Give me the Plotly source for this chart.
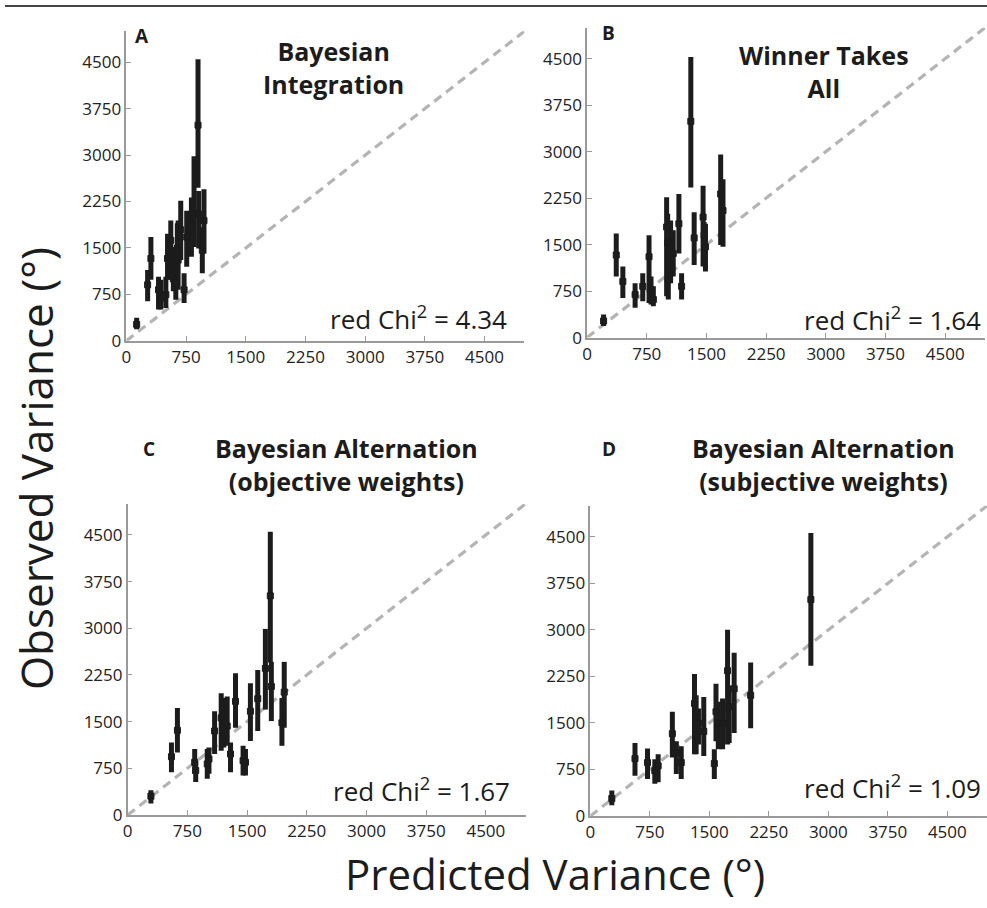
import plotly.graph_objects as go

W, H = 987, 908

# ---------------- data ----------------
# Panel A: Bayesian Integration
A_x  = [129, 267, 308, 404, 433, 496, 517, 558, 590, 600, 621, 640, 650, 683, 725, 758, 817, 850, 900, 908, 954, 975]
A_y  = [266, 904, 1330, 825, 691, 745, 1330, 1623, 1000, 1197, 931, 1500, 1304, 1793, 825, 1676, 1888, 2048, 3484, 2048, 1463, 1942]
A_lo = [186, 638, 985, 506, 506, 532, 985, 985, 800, 878, 665, 1050, 825, 1304, 612, 1197, 1357, 1516, 2474, 1490, 1091, 1410]
A_hi = [372, 1144, 1676, 1037, 985, 1037, 1729, 1942, 1250, 1516, 1037, 1900, 1942, 2261, 1091, 2102, 2314, 2980, 4549, 2421, 1835, 2447]

# Panel B: Winner Takes All
B_x  = [208, 367, 450, 604, 700, 779, 804, 833, 1000, 1013, 1021, 1050, 1083, 1154, 1188, 1304, 1346, 1458, 1471, 1488, 1679, 1708]
B_y  = [267, 1332, 905, 693, 826, 1305, 773, 613, 1784, 1528, 933, 1464, 1357, 1837, 826, 3488, 1608, 1944, 1651, 1464, 2316, 2050]
B_lo = [187, 985, 639, 479, 586, 559, 533, 506, 666, 932, 613, 878, 985, 1357, 613, 2423, 1172, 1145, 1198, 1065, 1492, 1464]
B_hi = [374, 1677, 1145, 878, 1038, 1651, 985, 826, 2263, 1996, 1198, 1890, 1731, 2316, 1038, 4526, 2023, 2450, 1864, 1837, 2955, 2556]

# Panel C: Bayesian Alternation (objective weights)
C_x  = [292, 550, 625, 842, 855, 1000, 1021, 1092, 1175, 1208, 1250, 1292, 1355, 1450, 1480, 1542, 1634, 1730, 1792, 1805, 1938, 1967]
C_y  = [302, 937, 1361, 847, 715, 821, 900, 1350, 1561, 1509, 1429, 980, 1826, 873, 847, 1667, 1869, 2355, 3521, 2065, 1482, 1974]
C_lo = [185, 688, 1005, 662, 529, 583, 662, 980, 1032, 1085, 1112, 688, 1402, 635, 635, 1191, 1350, 1694, 2450, 1509, 1112, 1402]
C_hi = [397, 1164, 1720, 1059, 873, 1059, 1085, 1667, 1958, 1879, 1906, 1164, 2276, 1112, 1059, 2117, 2330, 2990, 4553, 2461, 1879, 2461]

# Panel D: Bayesian Alternation (subjective weights)
D_x  = [271, 563, 721, 813, 855, 1034, 1084, 1146, 1313, 1334, 1363, 1430, 1563, 1584, 1613, 1667, 1730, 1750, 1813, 2021, 2780]
D_y  = [281, 925, 861, 730, 809, 1327, 1020, 861, 1813, 1575, 1496, 1364, 846, 1681, 1496, 1496, 2342, 1761, 2051, 1946, 3489]
D_lo = [174, 650, 598, 518, 544, 941, 677, 598, 994, 994, 1153, 967, 598, 1205, 1074, 1074, 1153, 1178, 1337, 1416, 2422]
D_hi = [412, 1178, 1089, 915, 994, 1681, 1205, 1126, 2289, 1946, 1734, 1919, 1074, 2130, 1840, 1892, 3002, 2104, 2633, 2474, 4563]

panel_letters = ["A", "B", "C", "D"]
panel_titles = ["Bayesian<br>Integration", "Winner Takes<br>All",
                "Bayesian Alternation<br>(objective weights)",
                "Bayesian Alternation<br>(subjective weights)"]
chi_values = ["4.34", "1.64", "1.67", "1.09"]
tick_vals = [0, 750, 1500, 2250, 3000, 3750, 4500]
tick_text = ["0", "750", "1500", "2250", "3000", "3750", "4500"]
axis_max = 5000
x_title = "Predicted Variance (°)"
y_title = "Observed Variance (°)"

# ---------------- layout geometry (pixels) ----------------
boxes = [(122, 522, 31.7, 345), (585, 985, 28, 341.7),
         (123.3, 523.3, 510, 825), (588.3, 987, 512, 826)]
title_pos = [(330, 68), (823, 72), (343, 470), (823, 470)]
letter_pos = [(138, 36), (607, 33), (145, 455), (607, 455)]
chi_pos = [(507, 322), (983, 323), (510, 800), (983, 797)]

FONT = "Open Sans"
INK = "#1c1c1c"
AX = "#9a9a9a"

panels = [(A_x, A_y, A_lo, A_hi), (B_x, B_y, B_lo, B_hi),
          (C_x, C_y, C_lo, C_hi), (D_x, D_y, D_lo, D_hi)]

fig = go.Figure()
layout = dict(width=W, height=H, margin=dict(l=0, r=0, t=0, b=0),
              paper_bgcolor="white", plot_bgcolor="white", showlegend=False,
              font=dict(family=FONT, color="#222"))
annotations = []

for i, (xs, ys, lo, hi) in enumerate(panels):
    k = "" if i == 0 else str(i + 1)
    xa, ya = "x" + k, "y" + k
    left, right, top, bottom = boxes[i]
    fig.add_trace(go.Scatter(x=[0, axis_max], y=[0, axis_max], mode="lines",
                             line=dict(color="#b4b4b4", width=3.2, dash="9px,6px"),
                             xaxis=xa, yaxis=ya, hoverinfo="skip"))
    fig.add_trace(go.Scatter(
        x=xs, y=ys, mode="markers", xaxis=xa, yaxis=ya,
        marker=dict(symbol="square", size=6, color=INK, line=dict(color=INK, width=1)),
        error_y=dict(type="data", symmetric=False,
                     array=[h - v for h, v in zip(hi, ys)],
                     arrayminus=[v - l for v, l in zip(ys, lo)],
                     color=INK, thickness=5, width=0)))
    axcommon = dict(range=[0, axis_max], tickvals=tick_vals, ticktext=tick_text,
                    ticks="inside", ticklen=5, tickwidth=1.2, tickcolor=AX,
                    showline=True, linecolor=AX, linewidth=1.5, showgrid=False,
                    zeroline=False, tickfont=dict(family=FONT, size=17, color="#222"))
    layout["xaxis" + k] = dict(axcommon, domain=[left / W, right / W], anchor=ya)
    layout["yaxis" + k] = dict(axcommon, domain=[1 - bottom / H, 1 - top / H], anchor=xa)

    tx, ty = title_pos[i]
    annotations.append(dict(text="<b>" + panel_titles[i] + "</b>", x=tx / W, y=1 - ty / H,
                            xref="paper", yref="paper", showarrow=False, align="center",
                            xanchor="center", yanchor="middle",
                            font=dict(family=FONT, size=25, color=INK)))
    lx, ly = letter_pos[i]
    annotations.append(dict(text="<b>" + panel_letters[i] + "</b>", x=lx / W, y=1 - ly / H,
                            xref="paper", yref="paper", showarrow=False,
                            xanchor="center", yanchor="middle",
                            font=dict(family=FONT, size=19, color=INK)))
    cx, cy = chi_pos[i]
    annotations.append(dict(text="red Chi<sup>2</sup> = " + chi_values[i], x=cx / W, y=1 - cy / H,
                            xref="paper", yref="paper", showarrow=False,
                            xanchor="right", yanchor="middle",
                            font=dict(family=FONT, size=26, color=INK)))

annotations.append(dict(text=y_title, x=31 / W, y=1 - 474 / H, xref="paper", yref="paper",
                        showarrow=False, textangle=-90, xanchor="center", yanchor="middle",
                        font=dict(family=FONT, size=44, color=INK)))
annotations.append(dict(text=x_title, x=553 / W, y=1 - 884 / H, xref="paper", yref="paper",
                        showarrow=False, xanchor="center", yanchor="middle", borderpad=0,
                        font=dict(family=FONT, size=42, color=INK)))
layout["annotations"] = annotations
layout["shapes"] = [dict(type="line", xref="paper", yref="paper", x0=0, x1=1,
                         y0=1 - 6 / H, y1=1 - 6 / H, line=dict(color="#444", width=2))]
fig.update_layout(**layout)
fig.write_html("out.html")
